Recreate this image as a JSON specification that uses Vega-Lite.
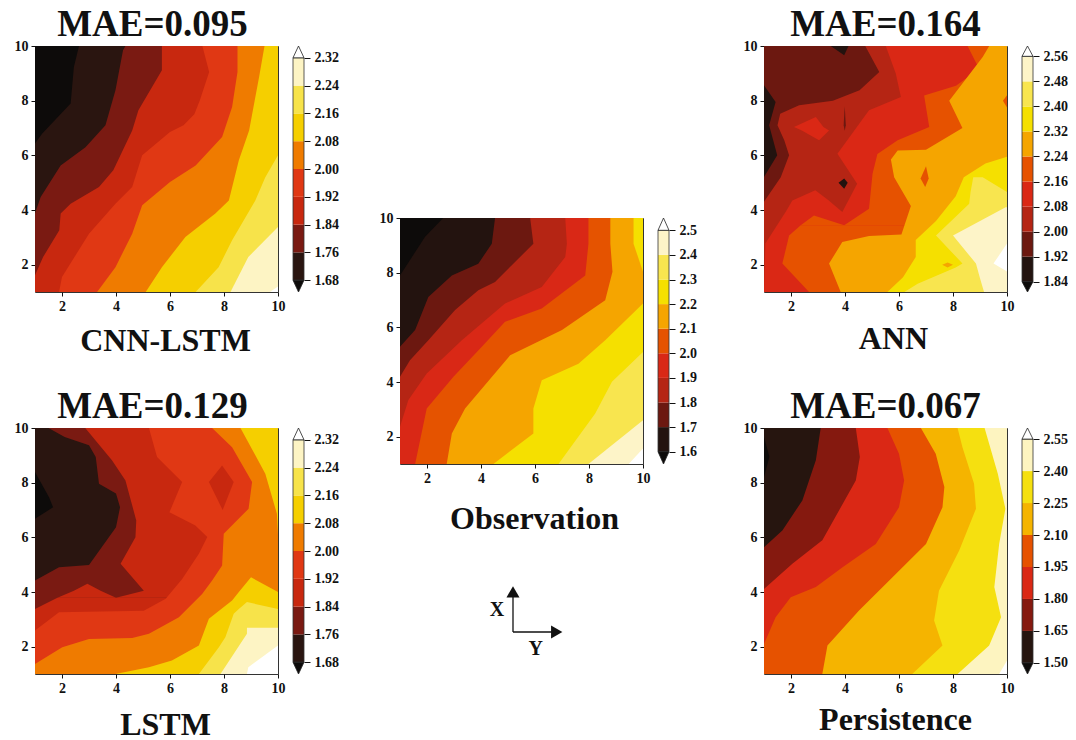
{"$schema":"https://vega.github.io/schema/vega-lite/v6.json","background":"white","padding":{"left":13,"top":5,"right":0,"bottom":0},
"config":{"view":{"stroke":"#333","strokeWidth":1},"font":"Liberation Serif","axis":{"grid":false,"domain":false,"tickColor":"#111","tickSize":4,"tickWidth":1,"labelFont":"Liberation Serif","labelFontWeight":"bold","labelFontSize":14,"labelColor":"#111","labelPadding":3,"labelFlush":false,"labelOverlap":false,"titleFont":"Liberation Serif","titleFontWeight":"bold","titleFontSize":32,"titleColor":"#111","titleBaseline":"alphabetic","titleAlign":"center","titleAnchor":"start"},"title":{"font":"Liberation Serif","fontWeight":"bold","fontSize":37,"color":"#111"}},
"resolve":{"scale":{"color":"independent"}},
"datasets":{
"cnn":[{"b":"below","s":"a","y":1,"x":1,"x2":10},{"b":"below","s":"a","y":10,"x":1,"x2":10},
{"b":"1.68","s":"l1","y":1,"x":1,"x2":10},{"b":"1.68","s":"l1","y":6.43,"x":1,"x2":10},{"b":"1.68","s":"l1","y":6.8,"x":1.27,"x2":10},{"b":"1.68","s":"l1","y":7.9,"x":2.32,"x2":10},{"b":"1.68","s":"l1","y":9.23,"x":2.44,"x2":10},{"b":"1.68","s":"l1","y":10,"x":2.63,"x2":10},
{"b":"1.76","s":"l2","y":1,"x":1,"x2":10},{"b":"1.76","s":"l2","y":3.87,"x":1,"x2":10},{"b":"1.76","s":"l2","y":4.48,"x":1.21,"x2":10},{"b":"1.76","s":"l2","y":5.63,"x":1.95,"x2":10},{"b":"1.76","s":"l2","y":6.3,"x":2.87,"x2":10},{"b":"1.76","s":"l2","y":7.1,"x":3.61,"x2":10},{"b":"1.76","s":"l2","y":8.38,"x":3.98,"x2":10},{"b":"1.76","s":"l2","y":9.84,"x":4.26,"x2":10},{"b":"1.76","s":"l2","y":10,"x":4.35,"x2":10},
{"b":"1.84","s":"l3","y":1,"x":1,"x2":10},{"b":"1.84","s":"l3","y":1.61,"x":1,"x2":10},{"b":"1.84","s":"l3","y":2.28,"x":1.3,"x2":10},{"b":"1.84","s":"l3","y":3.26,"x":1.9,"x2":10},{"b":"1.84","s":"l3","y":3.87,"x":1.95,"x2":10},{"b":"1.84","s":"l3","y":4.23,"x":2.32,"x2":10},{"b":"1.84","s":"l3","y":4.84,"x":3.37,"x2":10},{"b":"1.84","s":"l3","y":5.45,"x":3.9,"x2":10},{"b":"1.84","s":"l3","y":6.91,"x":4.6,"x2":10},{"b":"1.84","s":"l3","y":7.65,"x":4.83,"x2":10},{"b":"1.84","s":"l3","y":9.11,"x":5.7,"x2":10},{"b":"1.84","s":"l3","y":10,"x":5.7,"x2":10},
{"b":"1.92","s":"l4","y":1,"x":1.89,"x2":10},{"b":"1.92","s":"l4","y":1.55,"x":2,"x2":10},{"b":"1.92","s":"l4","y":3.13,"x":3,"x2":10},{"b":"1.92","s":"l4","y":4.23,"x":3.98,"x2":10},{"b":"1.92","s":"l4","y":4.84,"x":4.6,"x2":10},{"b":"1.92","s":"l4","y":6,"x":4.97,"x2":10},{"b":"1.92","s":"l4","y":6.85,"x":6,"x2":10},{"b":"1.92","s":"l4","y":7.1,"x":6.5,"x2":10},{"b":"1.92","s":"l4","y":7.5,"x":6.9,"x2":10},{"b":"1.92","s":"l4","y":8,"x":7.1,"x2":10},{"b":"1.92","s":"l4","y":9.05,"x":7.45,"x2":10},{"b":"1.92","s":"l4","y":10,"x":7.2,"x2":10},
{"b":"2.00","s":"l5","y":1,"x":3.3,"x2":10},{"b":"2.00","s":"l5","y":1.91,"x":3.98,"x2":10},{"b":"2.00","s":"l5","y":3.13,"x":4.6,"x2":10},{"b":"2.00","s":"l5","y":4.17,"x":4.97,"x2":10},{"b":"2.00","s":"l5","y":5.02,"x":6,"x2":10},{"b":"2.00","s":"l5","y":5.63,"x":6.95,"x2":10},{"b":"2.00","s":"l5","y":6.67,"x":7.93,"x2":10},{"b":"2.00","s":"l5","y":7.77,"x":8.3,"x2":10},{"b":"2.00","s":"l5","y":9.05,"x":8.5,"x2":10},{"b":"2.00","s":"l5","y":10,"x":8.5,"x2":10},
{"b":"2.08","s":"l6","y":1,"x":5.1,"x2":10},{"b":"2.08","s":"l6","y":1.91,"x":5.7,"x2":10},{"b":"2.08","s":"l6","y":3.01,"x":6.57,"x2":10},{"b":"2.08","s":"l6","y":3.87,"x":7.68,"x2":10},{"b":"2.08","s":"l6","y":4.35,"x":8.18,"x2":10},{"b":"2.08","s":"l6","y":5.82,"x":8.55,"x2":10},{"b":"2.08","s":"l6","y":6.91,"x":8.93,"x2":10},{"b":"2.08","s":"l6","y":8.87,"x":9.3,"x2":10},{"b":"2.08","s":"l6","y":10,"x":9.5,"x2":10},
{"b":"2.16","s":"l7","y":1,"x":6.95,"x2":10},{"b":"2.16","s":"l7","y":1.91,"x":7.8,"x2":10},{"b":"2.16","s":"l7","y":2.89,"x":8.3,"x2":10},{"b":"2.16","s":"l7","y":4.35,"x":9.16,"x2":10},{"b":"2.16","s":"l7","y":5.2,"x":9.53,"x2":10},{"b":"2.16","s":"l7","y":6,"x":10,"x2":10},
{"b":"2.24","s":"l8","y":1,"x":8.24,"x2":10},{"b":"2.24","s":"l8","y":2.28,"x":8.9,"x2":10},{"b":"2.24","s":"l8","y":3.38,"x":10,"x2":10},
{"b":"above","s":"l9","y":1,"x":9.7,"x2":10},{"b":"above","s":"l9","y":1.2,"x":10,"x2":10}],
"lstm":[{"b":"1.68","s":"a","y":1,"x":1,"x2":10},{"b":"1.68","s":"a","y":10,"x":1,"x2":10},
{"b":"below","s":"blob","y":6.68,"x":1,"x2":1},{"b":"below","s":"blob","y":7.1,"x":1,"x2":1.67},{"b":"below","s":"blob","y":7.47,"x":1,"x2":1.52},{"b":"below","s":"blob","y":8.39,"x":1,"x2":1},
{"b":"1.76","s":"m","y":1,"x":1,"x2":10},{"b":"1.76","s":"m","y":4.42,"x":1,"x2":10},{"b":"1.76","s":"m","y":4.91,"x":1.89,"x2":10},{"b":"1.76","s":"m","y":4.99,"x":3,"x2":10},{"b":"1.76","s":"m","y":6.37,"x":4,"x2":10},{"b":"1.76","s":"m","y":7.1,"x":4.15,"x2":10},{"b":"1.76","s":"m","y":7.6,"x":4,"x2":10},{"b":"1.76","s":"m","y":7.96,"x":3.37,"x2":10},{"b":"1.76","s":"m","y":8.94,"x":3.25,"x2":10},{"b":"1.76","s":"m","y":9.37,"x":3,"x2":10},{"b":"1.76","s":"m","y":9.67,"x":2.1,"x2":10},{"b":"1.76","s":"m","y":10,"x":1.5,"x2":10},
{"b":"1.84","s":"ra","y":1,"x":1,"x2":10},{"b":"1.84","s":"ra","y":3.38,"x":1,"x2":10},{"b":"1.84","s":"ra","y":3.79,"x":1.83,"x2":10},
{"b":"1.84","s":"rb","y":3.79,"x":4,"x2":10},{"b":"1.84","s":"rb","y":4.05,"x":5.03,"x2":10},{"b":"1.84","s":"rb","y":5.03,"x":4.17,"x2":10},{"b":"1.84","s":"rb","y":6,"x":4.72,"x2":10},{"b":"1.84","s":"rb","y":6.62,"x":4.75,"x2":10},{"b":"1.84","s":"rb","y":8.08,"x":4.35,"x2":10},{"b":"1.84","s":"rb","y":8.82,"x":3.85,"x2":10},{"b":"1.84","s":"rb","y":10,"x":2.86,"x2":10},
{"b":"1.84","s":"rc","y":3.79,"x":1.83,"x2":4},{"b":"1.84","s":"rc","y":4.05,"x":2.44,"x2":3.43},{"b":"1.84","s":"rc","y":4.3,"x":2.94,"x2":2.94},
{"b":"1.92","s":"o","y":1,"x":1,"x2":10},{"b":"1.92","s":"o","y":2.59,"x":1,"x2":10},{"b":"1.92","s":"o","y":3.26,"x":1.89,"x2":10},{"b":"1.92","s":"o","y":3.31,"x":5.03,"x2":10},{"b":"1.92","s":"o","y":3.75,"x":5.84,"x2":10},{"b":"1.92","s":"o","y":4.48,"x":6.45,"x2":10},{"b":"1.92","s":"o","y":5.4,"x":7.07,"x2":10},{"b":"1.92","s":"o","y":6.01,"x":7.38,"x2":10},{"b":"1.92","s":"o","y":6.43,"x":6.94,"x2":10},{"b":"1.92","s":"o","y":6.92,"x":5.98,"x2":10},{"b":"1.92","s":"o","y":8.02,"x":6.45,"x2":10},{"b":"1.92","s":"o","y":8.94,"x":5.52,"x2":10},{"b":"1.92","s":"o","y":10,"x":5.22,"x2":10},
{"b":"1.84","s":"isl","y":7,"x":7.95,"x2":7.95},{"b":"1.84","s":"isl","y":8.02,"x":7.44,"x2":8.36},{"b":"1.84","s":"isl","y":8.63,"x":7.93,"x2":7.93},
{"b":"2.00","s":"p","y":1,"x":1,"x2":10},{"b":"2.00","s":"p","y":1.37,"x":1,"x2":10},{"b":"2.00","s":"p","y":1.98,"x":2.01,"x2":10},{"b":"2.00","s":"p","y":2.28,"x":3,"x2":10},{"b":"2.00","s":"p","y":2.32,"x":4.6,"x2":10},{"b":"2.00","s":"p","y":2.47,"x":5.22,"x2":10},{"b":"2.00","s":"p","y":3.08,"x":6.33,"x2":10},{"b":"2.00","s":"p","y":3.93,"x":7.19,"x2":10},{"b":"2.00","s":"p","y":4.42,"x":7.56,"x2":10},{"b":"2.00","s":"p","y":4.97,"x":7.93,"x2":10},{"b":"2.00","s":"p","y":6.13,"x":7.99,"x2":10},{"b":"2.00","s":"p","y":7.05,"x":8.91,"x2":10},{"b":"2.00","s":"p","y":8.02,"x":9.04,"x2":10},{"b":"2.00","s":"p","y":9.3,"x":8.3,"x2":10},{"b":"2.00","s":"p","y":10,"x":7.56,"x2":10},
{"b":"2.08","s":"g1","y":1,"x":3.98,"x2":10},{"b":"2.08","s":"g1","y":1.25,"x":5.22,"x2":10},{"b":"2.08","s":"g1","y":1.49,"x":6.07,"x2":10},{"b":"2.08","s":"g1","y":2.04,"x":7.07,"x2":10},{"b":"2.08","s":"g1","y":3.02,"x":7.44,"x2":10},{"b":"2.08","s":"g1","y":3.69,"x":8.3,"x2":10},{"b":"2.08","s":"g1","y":4,"x":8.55,"x2":10},{"b":"2.08","s":"g1","y":4.54,"x":9,"x2":9},
{"b":"2.08","s":"g2","y":6.1,"x":10,"x2":10},{"b":"2.08","s":"g2","y":6.86,"x":9.96,"x2":10},{"b":"2.08","s":"g2","y":8.33,"x":9.53,"x2":10},{"b":"2.08","s":"g2","y":10,"x":8.61,"x2":10},
{"b":"2.16","s":"h","y":1,"x":7.07,"x2":10},{"b":"2.16","s":"h","y":1.98,"x":7.81,"x2":10},{"b":"2.16","s":"h","y":2.34,"x":8.05,"x2":10},{"b":"2.16","s":"h","y":3.2,"x":8.36,"x2":10},{"b":"2.16","s":"h","y":3.38,"x":8.55,"x2":10},{"b":"2.16","s":"h","y":3.63,"x":8.85,"x2":8.85},
{"b":"2.24","s":"i","y":1,"x":7.87,"x2":10},{"b":"2.24","s":"i","y":2.47,"x":8.85,"x2":10},{"b":"2.24","s":"i","y":2.69,"x":8.85,"x2":10},
{"b":"above","s":"j","y":1,"x":8.85,"x2":10},{"b":"above","s":"j","y":1.25,"x":8.9,"x2":10},{"b":"above","s":"j","y":2.04,"x":10,"x2":10}],
"obs":[{"b":"below","s":"a","y":1,"x":1,"x2":10},{"b":"below","s":"a","y":10,"x":1,"x2":10},
{"b":"1.6","s":"l1","y":1,"x":1,"x2":10},{"b":"1.6","s":"l1","y":7.9,"x":1,"x2":10},{"b":"1.6","s":"l1","y":9.31,"x":1.93,"x2":10},{"b":"1.6","s":"l1","y":10,"x":2.6,"x2":10},
{"b":"1.7","s":"l2","y":1,"x":1,"x2":10},{"b":"1.7","s":"l2","y":5.29,"x":1,"x2":10},{"b":"1.7","s":"l2","y":5.9,"x":1.56,"x2":10},{"b":"1.7","s":"l2","y":7.11,"x":2.05,"x2":10},{"b":"1.7","s":"l2","y":7.9,"x":2.92,"x2":10},{"b":"1.7","s":"l2","y":8.33,"x":3.9,"x2":10},{"b":"1.7","s":"l2","y":9.06,"x":4.4,"x2":10},{"b":"1.7","s":"l2","y":10,"x":4.52,"x2":10},
{"b":"1.8","s":"l3","y":1,"x":1,"x2":10},{"b":"1.8","s":"l3","y":4.19,"x":1,"x2":10},{"b":"1.8","s":"l3","y":4.8,"x":1.37,"x2":10},{"b":"1.8","s":"l3","y":5.53,"x":2.05,"x2":10},{"b":"1.8","s":"l3","y":6.63,"x":3.04,"x2":10},{"b":"1.8","s":"l3","y":7.36,"x":3.9,"x2":10},{"b":"1.8","s":"l3","y":7.66,"x":4.52,"x2":10},{"b":"1.8","s":"l3","y":9.06,"x":5.94,"x2":10},{"b":"1.8","s":"l3","y":10,"x":5.82,"x2":10},
{"b":"1.9","s":"l4","y":1,"x":1,"x2":10},{"b":"1.9","s":"l4","y":2.36,"x":1,"x2":10},{"b":"1.9","s":"l4","y":3.34,"x":1.31,"x2":10},{"b":"1.9","s":"l4","y":4.31,"x":1.99,"x2":10},{"b":"1.9","s":"l4","y":5.53,"x":3.29,"x2":10},{"b":"1.9","s":"l4","y":6.87,"x":4.89,"x2":10},{"b":"1.9","s":"l4","y":7.48,"x":6.25,"x2":10},{"b":"1.9","s":"l4","y":8.57,"x":7.12,"x2":10},{"b":"1.9","s":"l4","y":9.06,"x":7.18,"x2":10},{"b":"1.9","s":"l4","y":10,"x":7.12,"x2":10},
{"b":"2.0","s":"l5","y":1,"x":1.56,"x2":10},{"b":"2.0","s":"l5","y":3.03,"x":1.99,"x2":10},{"b":"2.0","s":"l5","y":4.19,"x":2.98,"x2":10},{"b":"2.0","s":"l5","y":5.29,"x":4.03,"x2":10},{"b":"2.0","s":"l5","y":6.2,"x":4.89,"x2":10},{"b":"2.0","s":"l5","y":6.69,"x":6.25,"x2":10},{"b":"2.0","s":"l5","y":7.9,"x":7.86,"x2":10},{"b":"2.0","s":"l5","y":9.06,"x":7.98,"x2":10},{"b":"2.0","s":"l5","y":10,"x":7.98,"x2":10},
{"b":"2.1","s":"l6","y":1,"x":2.73,"x2":10},{"b":"2.1","s":"l6","y":2.12,"x":2.92,"x2":10},{"b":"2.1","s":"l6","y":3.03,"x":3.41,"x2":10},{"b":"2.1","s":"l6","y":4.98,"x":5.08,"x2":10},{"b":"2.1","s":"l6","y":5.9,"x":7,"x2":10},{"b":"2.1","s":"l6","y":6.99,"x":8.6,"x2":10},{"b":"2.1","s":"l6","y":8.03,"x":8.87,"x2":10},{"b":"2.1","s":"l6","y":9.06,"x":8.79,"x2":10},{"b":"2.1","s":"l6","y":10,"x":8.79,"x2":10},
{"b":"2.2","s":"g1","y":1,"x":4.46,"x2":10},{"b":"2.2","s":"g1","y":2.12,"x":5.94,"x2":10},{"b":"2.2","s":"g1","y":3.03,"x":5.94,"x2":10},{"b":"2.2","s":"g1","y":4.06,"x":6.25,"x2":10},{"b":"2.2","s":"g1","y":4.67,"x":7.61,"x2":10},{"b":"2.2","s":"g1","y":5.53,"x":8.6,"x2":10},{"b":"2.2","s":"g1","y":6.87,"x":10,"x2":10},
{"b":"2.2","s":"g2","y":8.03,"x":10,"x2":10},{"b":"2.2","s":"g2","y":9.06,"x":9.65,"x2":10},{"b":"2.2","s":"g2","y":10,"x":9.65,"x2":10},
{"b":"2.3","s":"l8","y":1,"x":6.87,"x2":10},{"b":"2.3","s":"l8","y":2.85,"x":8.23,"x2":10},{"b":"2.3","s":"l8","y":4.01,"x":8.85,"x2":10},{"b":"2.3","s":"l8","y":5.1,"x":10,"x2":10},
{"b":"2.4","s":"l9","y":1,"x":7.98,"x2":10},{"b":"2.4","s":"l9","y":2.6,"x":10,"x2":10},
{"b":"above","s":"l10","y":1,"x":9.47,"x2":10},{"b":"above","s":"l10","y":1.57,"x":10,"x2":10}],
"ann":[{"b":"1.92","s":"a","y":1,"x":1,"x2":10},{"b":"1.92","s":"a","y":10,"x":1,"x2":10},
{"b":"1.84","s":"d1","y":5.21,"x":1,"x2":1},{"b":"1.84","s":"d1","y":6,"x":1,"x2":1.49},{"b":"1.84","s":"d1","y":7.1,"x":1,"x2":1.19},{"b":"1.84","s":"d1","y":7.95,"x":1,"x2":1.43},{"b":"1.84","s":"d1","y":8.56,"x":1,"x2":1},
{"b":"1.84","s":"d2","y":9.66,"x":3.97,"x2":3.97},{"b":"1.84","s":"d2","y":10,"x":3.47,"x2":4.13},
{"b":"2.00","s":"br","y":1,"x":1,"x2":10},{"b":"2.00","s":"br","y":4.3,"x":1,"x2":10},{"b":"2.00","s":"br","y":5.2,"x":1.62,"x2":10},{"b":"2.00","s":"br","y":6,"x":1.93,"x2":10},{"b":"2.00","s":"br","y":6.55,"x":1.75,"x2":10},{"b":"2.00","s":"br","y":7.1,"x":1.5,"x2":10},{"b":"2.00","s":"br","y":7.52,"x":1.6,"x2":10},{"b":"2.00","s":"br","y":7.83,"x":2.3,"x2":10},{"b":"2.00","s":"br","y":8,"x":3.55,"x2":10},{"b":"2.00","s":"br","y":8.38,"x":4.54,"x2":10},{"b":"2.00","s":"br","y":9.05,"x":5.27,"x2":10},{"b":"2.00","s":"br","y":10,"x":4.75,"x2":10},
{"b":"1.84","s":"d3","y":4.78,"x":3.97,"x2":3.97},{"b":"1.84","s":"d3","y":5,"x":3.76,"x2":4.1},{"b":"1.84","s":"d3","y":5.15,"x":3.97,"x2":3.97},
{"b":"1.92","s":"d4","y":6.9,"x":3.99,"x2":3.99},{"b":"1.92","s":"d4","y":7.1,"x":3.95,"x2":4.03},{"b":"1.92","s":"d4","y":7.8,"x":3.99,"x2":3.99},
{"b":"2.08","s":"ra","y":1,"x":1,"x2":10},{"b":"2.08","s":"ra","y":2.77,"x":1.05,"x2":10},{"b":"2.08","s":"ra","y":3.74,"x":1.68,"x2":10},{"b":"2.08","s":"ra","y":3.93,"x":1.8,"x2":10},
{"b":"2.08","s":"rl","y":3.93,"x":1.8,"x2":3.9},{"b":"2.08","s":"rl","y":4.35,"x":2.05,"x2":3.4},{"b":"2.08","s":"rl","y":4.72,"x":2.9,"x2":2.9},
{"b":"2.08","s":"rr","y":3.93,"x":3.9,"x2":10},{"b":"2.08","s":"rr","y":4.96,"x":4.45,"x2":10},{"b":"2.08","s":"rr","y":6.06,"x":3.72,"x2":10},{"b":"2.08","s":"rr","y":7.65,"x":4.89,"x2":10},{"b":"2.08","s":"rr","y":8.13,"x":6.07,"x2":10},{"b":"2.08","s":"rr","y":8.99,"x":5.88,"x2":10},{"b":"2.08","s":"rr","y":10,"x":5.51,"x2":10},
{"b":"2.08","s":"ri","y":6.55,"x":3.04,"x2":3.04},{"b":"2.08","s":"ri","y":6.91,"x":2.4,"x2":3.41},{"b":"2.08","s":"ri","y":7.04,"x":2.11,"x2":3.2},{"b":"2.08","s":"ri","y":7.4,"x":2.92,"x2":2.92},
{"b":"2.16","s":"oa","y":1,"x":2.67,"x2":10},{"b":"2.16","s":"oa","y":2.04,"x":1.68,"x2":10},{"b":"2.16","s":"oa","y":3.07,"x":1.93,"x2":10},{"b":"2.16","s":"oa","y":3.44,"x":2.36,"x2":10},
{"b":"2.16","s":"ol","y":3.44,"x":2.36,"x2":3.97},{"b":"2.16","s":"ol","y":3.8,"x":2.85,"x2":2.85},
{"b":"2.16","s":"or","y":3.44,"x":3.97,"x2":10},{"b":"2.16","s":"or","y":4.05,"x":4.89,"x2":10},{"b":"2.16","s":"or","y":5.33,"x":5.02,"x2":10},{"b":"2.16","s":"or","y":6.05,"x":5.2,"x2":10},{"b":"2.16","s":"or","y":6.55,"x":5.95,"x2":10},{"b":"2.16","s":"or","y":7.04,"x":7.12,"x2":10},{"b":"2.16","s":"or","y":8.19,"x":6.93,"x2":10},{"b":"2.16","s":"or","y":8.55,"x":8.11,"x2":10},{"b":"2.16","s":"or","y":9.16,"x":8.97,"x2":10},{"b":"2.16","s":"or","y":10,"x":8.54,"x2":10},
{"b":"2.24","s":"p","y":1,"x":3.84,"x2":10},{"b":"2.24","s":"p","y":2.04,"x":3.41,"x2":10},{"b":"2.24","s":"p","y":2.83,"x":3.9,"x2":10},{"b":"2.24","s":"p","y":3.05,"x":4.89,"x2":10},{"b":"2.24","s":"p","y":3.1,"x":6.09,"x2":10},{"b":"2.24","s":"p","y":4.15,"x":6.44,"x2":10},{"b":"2.24","s":"p","y":5.2,"x":5.82,"x2":10},{"b":"2.24","s":"p","y":5.85,"x":5.7,"x2":10},{"b":"2.24","s":"p","y":6.18,"x":5.95,"x2":10},{"b":"2.24","s":"p","y":6.2,"x":7,"x2":10},{"b":"2.24","s":"p","y":7,"x":8.35,"x2":10},{"b":"2.24","s":"p","y":8,"x":7.86,"x2":10},{"b":"2.24","s":"p","y":9.6,"x":9.1,"x2":10},{"b":"2.24","s":"p","y":10,"x":9.34,"x2":10},
{"b":"2.16","s":"s1","y":4.84,"x":6.97,"x2":6.97},{"b":"2.16","s":"s1","y":5.15,"x":6.8,"x2":7.1},{"b":"2.16","s":"s1","y":5.6,"x":7,"x2":7},
{"b":"2.16","s":"s2","y":7.75,"x":10,"x2":10},{"b":"2.16","s":"s2","y":8,"x":9.85,"x2":10},{"b":"2.16","s":"s2","y":8.2,"x":10,"x2":10},
{"b":"2.32","s":"g","y":1,"x":5.57,"x2":10},{"b":"2.32","s":"g","y":1.54,"x":6.15,"x2":10},{"b":"2.32","s":"g","y":2.28,"x":6.62,"x2":10},{"b":"2.32","s":"g","y":2.9,"x":6.62,"x2":10},{"b":"2.32","s":"g","y":3.6,"x":7.37,"x2":10},{"b":"2.32","s":"g","y":4.5,"x":8.1,"x2":10},{"b":"2.32","s":"g","y":5.2,"x":8.4,"x2":10},{"b":"2.32","s":"g","y":5.7,"x":9.2,"x2":10},{"b":"2.32","s":"g","y":5.95,"x":10,"x2":10},
{"b":"2.24","s":"s3","y":1.9,"x":7.8,"x2":7.8},{"b":"2.24","s":"s3","y":2,"x":7.6,"x2":8},{"b":"2.24","s":"s3","y":2.08,"x":7.8,"x2":7.8},
{"b":"2.40","s":"h1","y":1,"x":6.2,"x2":10},{"b":"2.40","s":"h1","y":1.3,"x":6.69,"x2":10},{"b":"2.40","s":"h1","y":1.9,"x":8.1,"x2":10},{"b":"2.40","s":"h1","y":2.04,"x":8.35,"x2":10},{"b":"2.40","s":"h1","y":3.07,"x":7.37,"x2":10},{"b":"2.40","s":"h1","y":4.23,"x":8.6,"x2":10},{"b":"2.40","s":"h1","y":4.66,"x":8.65,"x2":10},{"b":"2.40","s":"h1","y":5.2,"x":8.75,"x2":9.1},
{"b":"2.48","s":"i","y":1,"x":9.15,"x2":10},{"b":"2.48","s":"i","y":1.5,"x":9,"x2":10},{"b":"2.48","s":"i","y":2.04,"x":8.85,"x2":10},{"b":"2.48","s":"i","y":3.07,"x":8,"x2":10},{"b":"2.48","s":"i","y":4.1,"x":9.95,"x2":10},
{"b":"above","s":"j","y":1.75,"x":10,"x2":10},{"b":"above","s":"j","y":2.04,"x":9.5,"x2":10},{"b":"above","s":"j","y":2.77,"x":10,"x2":10}],
"per":[{"b":"1.50","s":"a","y":1,"x":1,"x2":10},{"b":"1.50","s":"a","y":10,"x":1,"x2":10},
{"b":"below","s":"k","y":8.2,"x":1,"x2":1},{"b":"below","s":"k","y":8.95,"x":1,"x2":1.2},{"b":"below","s":"k","y":9.67,"x":1,"x2":1},
{"b":"1.65","s":"l1","y":1,"x":1,"x2":10},{"b":"1.65","s":"l1","y":5.64,"x":1,"x2":10},{"b":"1.65","s":"l1","y":6.25,"x":1.68,"x2":10},{"b":"1.65","s":"l1","y":7.35,"x":2.42,"x2":10},{"b":"1.65","s":"l1","y":8.82,"x":2.92,"x2":10},{"b":"1.65","s":"l1","y":10,"x":3.1,"x2":10},
{"b":"1.80","s":"l2","y":1,"x":1,"x2":10},{"b":"1.80","s":"l2","y":4.11,"x":1,"x2":10},{"b":"1.80","s":"l2","y":5.03,"x":2.05,"x2":10},{"b":"1.80","s":"l2","y":5.89,"x":3.16,"x2":10},{"b":"1.80","s":"l2","y":8.08,"x":4.4,"x2":10},{"b":"1.80","s":"l2","y":8.94,"x":4.55,"x2":10},{"b":"1.80","s":"l2","y":10,"x":4.4,"x2":10},
{"b":"1.95","s":"l3","y":1,"x":1,"x2":10},{"b":"1.95","s":"l3","y":2.1,"x":1,"x2":10},{"b":"1.95","s":"l3","y":3.08,"x":1.43,"x2":10},{"b":"1.95","s":"l3","y":3.81,"x":1.99,"x2":10},{"b":"1.95","s":"l3","y":4.18,"x":2.92,"x2":10},{"b":"1.95","s":"l3","y":4.91,"x":3.91,"x2":10},{"b":"1.95","s":"l3","y":5.76,"x":5.14,"x2":10},{"b":"1.95","s":"l3","y":7.1,"x":6,"x2":10},{"b":"1.95","s":"l3","y":8.08,"x":6.19,"x2":10},{"b":"1.95","s":"l3","y":9.06,"x":6,"x2":10},{"b":"1.95","s":"l3","y":10,"x":5.57,"x2":10},
{"b":"2.10","s":"l4","y":1,"x":3.16,"x2":10},{"b":"2.10","s":"l4","y":2.04,"x":3.35,"x2":10},{"b":"2.10","s":"l4","y":3.32,"x":4.52,"x2":10},{"b":"2.10","s":"l4","y":4.54,"x":5.76,"x2":10},{"b":"2.10","s":"l4","y":5.76,"x":7,"x2":10},{"b":"2.10","s":"l4","y":7.1,"x":7.61,"x2":10},{"b":"2.10","s":"l4","y":7.84,"x":7.68,"x2":10},{"b":"2.10","s":"l4","y":9.06,"x":7.36,"x2":10},{"b":"2.10","s":"l4","y":10,"x":6.81,"x2":10},
{"b":"2.25","s":"l5","y":1,"x":6.49,"x2":10},{"b":"2.25","s":"l5","y":2.04,"x":7.61,"x2":10},{"b":"2.25","s":"l5","y":2.96,"x":7.3,"x2":10},{"b":"2.25","s":"l5","y":4.05,"x":7.48,"x2":10},{"b":"2.25","s":"l5","y":5.52,"x":8.23,"x2":10},{"b":"2.25","s":"l5","y":7.05,"x":8.85,"x2":10},{"b":"2.25","s":"l5","y":7.96,"x":8.78,"x2":10},{"b":"2.25","s":"l5","y":9.3,"x":8.35,"x2":10},{"b":"2.25","s":"l5","y":10,"x":8.17,"x2":10},
{"b":"2.40","s":"l6","y":1,"x":8.17,"x2":10},{"b":"2.40","s":"l6","y":2.04,"x":9.34,"x2":10},{"b":"2.40","s":"l6","y":3.08,"x":9.78,"x2":10},{"b":"2.40","s":"l6","y":4.18,"x":9.53,"x2":10},{"b":"2.40","s":"l6","y":5.76,"x":9.71,"x2":10},{"b":"2.40","s":"l6","y":7.05,"x":9.94,"x2":10},{"b":"2.40","s":"l6","y":8.33,"x":9.66,"x2":10},{"b":"2.40","s":"l6","y":10,"x":9.17,"x2":10},
{"b":"above","s":"w","y":1,"x":9.71,"x2":10},{"b":"above","s":"w","y":1.49,"x":10,"x2":10}]
},
"hconcat":[
{"resolve":{"scale":{"color":"independent"}},"vconcat":[
{"resolve":{"scale":{"color":"independent"}},"hconcat":[
{"width":243,"height":246,"title":{"text":"MAE=0.095","offset":-5,"dx":-4},"data":{"name":"cnn"},"mark":{"type":"area","orient":"horizontal"},"encoding":{"y":{"field":"y","type":"quantitative","scale":{"domain":[1,10],"nice":false},"axis":{"values":[2,4,6,8,10],"title":null}},"x":{"field":"x","type":"quantitative","scale":{"domain":[1,10],"nice":false},"axis":{"values":[2,4,6,8,10],"title":"CNN-LSTM","titleX":130,"titleY":58}},"x2":{"field":"x2"},"detail":{"field":"s"},"color":{"field":"b","type":"ordinal","legend":null,"scale":{"domain":["below","1.68","1.76","1.84","1.92","2.00","2.08","2.16","2.24","above"],"range":["#0d0b0a","#2a1510","#7a1a12","#c8280f","#e03814","#ef7b00","#f5cf00","#f7e34a","#fdf4c4","#ffffff"]}}}},
{"width":11,"height":246,"view":{"stroke":null},"resolve":{"scale":{"color":"shared"}},"layer":[
{"data":{"values":[{"b":"1.68","lo":1.68,"hi":1.76},{"b":"1.76","lo":1.76,"hi":1.84},{"b":"1.84","lo":1.84,"hi":1.92},{"b":"1.92","lo":1.92,"hi":2.0},{"b":"2.00","lo":2.0,"hi":2.08},{"b":"2.08","lo":2.08,"hi":2.16},{"b":"2.16","lo":2.16,"hi":2.24},{"b":"2.24","lo":2.24,"hi":2.32}]},"mark":"rect","encoding":{"y":{"field":"lo","type":"quantitative","scale":{"domain":[1.646,2.354],"nice":false},"axis":{"values":[1.68,1.76,1.84,1.92,2.0,2.08,2.16,2.24,2.32],"tickCount":20,"format":".2f","orient":"right","title":null,"tickSize":6,"labelFontSize":14,"labelPadding":4,"labelOverlap":false}},"y2":{"field":"hi"},"color":{"field":"b","type":"ordinal","legend":null,"scale":{"domain":["below","1.68","1.76","1.84","1.92","2.00","2.08","2.16","2.24","above"],"range":["#0d0b0a","#2a1510","#7a1a12","#c8280f","#e03814","#ef7b00","#f5cf00","#f7e34a","#fdf4c4","#ffffff"]}}}},
{"data":{"values":[{"lo":1.68,"hi":2.32}]},"mark":{"type":"rect","fill":null,"stroke":"#333","strokeWidth":0.8},"encoding":{"y":{"field":"lo","type":"quantitative"},"y2":{"field":"hi"}}},
{"data":{"values":[{"b":"above","y":2.32,"x":0,"x2":1},{"b":"above","y":2.354,"x":0.5,"x2":0.5},{"b":"below","y":1.68,"x":0,"x2":1},{"b":"below","y":1.646,"x":0.5,"x2":0.5}]},"mark":{"type":"area","orient":"horizontal","stroke":"#222","strokeWidth":0.8},"encoding":{"y":{"field":"y","type":"quantitative"},"x":{"field":"x","type":"quantitative","scale":{"domain":[0,1],"nice":false},"axis":null},"x2":{"field":"x2"},"color":{"field":"b","type":"ordinal","legend":null}}}
]}],"spacing":15,"bounds":"flush"},
{"resolve":{"scale":{"color":"independent"}},"hconcat":[
{"width":243,"height":246,"title":{"text":"MAE=0.129","offset":-5,"dx":-4},"data":{"name":"lstm"},"mark":{"type":"area","orient":"horizontal"},"encoding":{"y":{"field":"y","type":"quantitative","scale":{"domain":[1,10],"nice":false},"axis":{"values":[2,4,6,8,10],"title":null}},"x":{"field":"x","type":"quantitative","scale":{"domain":[1,10],"nice":false},"axis":{"values":[2,4,6,8,10],"title":"LSTM","titleX":130,"titleY":60}},"x2":{"field":"x2"},"detail":{"field":"s"},"color":{"field":"b","type":"ordinal","legend":null,"scale":{"domain":["below","1.68","1.76","1.84","1.92","2.00","2.08","2.16","2.24","above"],"range":["#0d0b0a","#2a1510","#7a1a12","#c8280f","#e03814","#ef7b00","#f5cf00","#f7e34a","#fdf4c4","#ffffff"]}}}},
{"width":11,"height":246,"view":{"stroke":null},"resolve":{"scale":{"color":"shared"}},"layer":[
{"data":{"values":[{"b":"1.68","lo":1.68,"hi":1.76},{"b":"1.76","lo":1.76,"hi":1.84},{"b":"1.84","lo":1.84,"hi":1.92},{"b":"1.92","lo":1.92,"hi":2.0},{"b":"2.00","lo":2.0,"hi":2.08},{"b":"2.08","lo":2.08,"hi":2.16},{"b":"2.16","lo":2.16,"hi":2.24},{"b":"2.24","lo":2.24,"hi":2.32}]},"mark":"rect","encoding":{"y":{"field":"lo","type":"quantitative","scale":{"domain":[1.646,2.354],"nice":false},"axis":{"values":[1.68,1.76,1.84,1.92,2.0,2.08,2.16,2.24,2.32],"tickCount":20,"format":".2f","orient":"right","title":null,"tickSize":6,"labelFontSize":14,"labelPadding":4,"labelOverlap":false}},"y2":{"field":"hi"},"color":{"field":"b","type":"ordinal","legend":null,"scale":{"domain":["below","1.68","1.76","1.84","1.92","2.00","2.08","2.16","2.24","above"],"range":["#0d0b0a","#2a1510","#7a1a12","#c8280f","#e03814","#ef7b00","#f5cf00","#f7e34a","#fdf4c4","#ffffff"]}}}},
{"data":{"values":[{"lo":1.68,"hi":2.32}]},"mark":{"type":"rect","fill":null,"stroke":"#333","strokeWidth":0.8},"encoding":{"y":{"field":"lo","type":"quantitative"},"y2":{"field":"hi"}}},
{"data":{"values":[{"b":"above","y":2.32,"x":0,"x2":1},{"b":"above","y":2.354,"x":0.5,"x2":0.5},{"b":"below","y":1.68,"x":0,"x2":1},{"b":"below","y":1.646,"x":0.5,"x2":0.5}]},"mark":{"type":"area","orient":"horizontal","stroke":"#222","strokeWidth":0.8},"encoding":{"y":{"field":"y","type":"quantitative"},"x":{"field":"x","type":"quantitative","scale":{"domain":[0,1],"nice":false},"axis":null},"x2":{"field":"x2"},"color":{"field":"b","type":"ordinal","legend":null}}}
]}],"spacing":15,"bounds":"flush"}
],"spacing":30},
{"resolve":{"scale":{"color":"independent"}},"vconcat":[
{"width":303,"height":134,"view":{"stroke":null},"data":{"values":[]},"mark":"point"},
{"resolve":{"scale":{"color":"independent"}},"hconcat":[
{"width":243,"height":246,"data":{"name":"obs"},"mark":{"type":"area","orient":"horizontal"},"encoding":{"y":{"field":"y","type":"quantitative","scale":{"domain":[1,10],"nice":false},"axis":{"values":[2,4,6,8,10],"title":null}},"x":{"field":"x","type":"quantitative","scale":{"domain":[1,10],"nice":false},"axis":{"values":[2,4,6,8,10],"title":"Observation","titleX":134,"titleY":64}},"x2":{"field":"x2"},"detail":{"field":"s"},"color":{"field":"b","type":"ordinal","legend":null,"scale":{"domain":["below","1.6","1.7","1.8","1.9","2.0","2.1","2.2","2.3","2.4","above"],"range":["#0d0b0a","#23130f","#6c1810","#b52514","#d92816","#e55300","#f5a500","#f5e000","#f8e54f","#fdf4c8","#ffffff"]}}}},
{"width":11,"height":246,"view":{"stroke":null},"resolve":{"scale":{"color":"shared"}},"layer":[
{"data":{"values":[{"b":"1.6","lo":1.6,"hi":1.7},{"b":"1.7","lo":1.7,"hi":1.8},{"b":"1.8","lo":1.8,"hi":1.9},{"b":"1.9","lo":1.9,"hi":2.0},{"b":"2.0","lo":2.0,"hi":2.1},{"b":"2.1","lo":2.1,"hi":2.2},{"b":"2.2","lo":2.2,"hi":2.3},{"b":"2.3","lo":2.3,"hi":2.4},{"b":"2.4","lo":2.4,"hi":2.5}]},"mark":"rect","encoding":{"y":{"field":"lo","type":"quantitative","scale":{"domain":[1.55,2.55],"nice":false},"axis":{"values":[1.6,1.7,1.8,1.9,2.0,2.1,2.2,2.3,2.4,2.5],"tickCount":20,"format":".1f","orient":"right","title":null,"tickSize":6,"labelFontSize":14,"labelPadding":4,"labelOverlap":false}},"y2":{"field":"hi"},"color":{"field":"b","type":"ordinal","legend":null,"scale":{"domain":["below","1.6","1.7","1.8","1.9","2.0","2.1","2.2","2.3","2.4","above"],"range":["#0d0b0a","#23130f","#6c1810","#b52514","#d92816","#e55300","#f5a500","#f5e000","#f8e54f","#fdf4c8","#ffffff"]}}}},
{"data":{"values":[{"lo":1.6,"hi":2.5}]},"mark":{"type":"rect","fill":null,"stroke":"#333","strokeWidth":0.8},"encoding":{"y":{"field":"lo","type":"quantitative"},"y2":{"field":"hi"}}},
{"data":{"values":[{"b":"above","y":2.5,"x":0,"x2":1},{"b":"above","y":2.55,"x":0.5,"x2":0.5},{"b":"below","y":1.6,"x":0,"x2":1},{"b":"below","y":1.55,"x":0.5,"x2":0.5}]},"mark":{"type":"area","orient":"horizontal","stroke":"#222","strokeWidth":0.8},"encoding":{"y":{"field":"y","type":"quantitative"},"x":{"field":"x","type":"quantitative","scale":{"domain":[0,1],"nice":false},"axis":null},"x2":{"field":"x2"},"color":{"field":"b","type":"ordinal","legend":null}}}
]}],"spacing":15,"bounds":"flush"},
{"width":243,"height":134,"view":{"stroke":null},"layer":[
{"data":{"values":[{"x":4.65,"y":5,"x2":4.65,"y2":8},{"x":4.65,"y":5,"x2":6.4,"y2":5}]},"mark":{"type":"rule","color":"#111","strokeWidth":1.3},"encoding":{"x":{"field":"x","type":"quantitative","scale":{"domain":[0,10],"nice":false},"axis":null},"y":{"field":"y","type":"quantitative","scale":{"domain":[0,10],"nice":false},"axis":null},"x2":{"field":"x2"},"y2":{"field":"y2"}}},
{"data":{"values":[{"x":4.65,"y":8,"d":"up"},{"x":6.45,"y":5,"d":"right"}]},"mark":{"type":"point","filled":true,"opacity":1,"color":"#111","size":170},"encoding":{"x":{"field":"x","type":"quantitative"},"y":{"field":"y","type":"quantitative"},"shape":{"field":"d","type":"nominal","legend":null,"scale":{"domain":["up","right"],"range":["triangle-up","triangle-right"]}}}},
{"data":{"values":[{"x":3.99,"y":6.64,"t":"X"},{"x":5.58,"y":3.73,"t":"Y"}]},"mark":{"type":"text","font":"Liberation Serif","fontWeight":"bold","fontSize":20,"color":"#111"},"encoding":{"x":{"field":"x","type":"quantitative"},"y":{"field":"y","type":"quantitative"},"text":{"field":"t"}}}
]}
],"spacing":30},
{"resolve":{"scale":{"color":"independent"}},"vconcat":[
{"resolve":{"scale":{"color":"independent"}},"hconcat":[
{"width":243,"height":246,"title":{"text":"MAE=0.164","offset":-5},"data":{"name":"ann"},"mark":{"type":"area","orient":"horizontal"},"encoding":{"y":{"field":"y","type":"quantitative","scale":{"domain":[1,10],"nice":false},"axis":{"values":[2,4,6,8,10],"title":null}},"x":{"field":"x","type":"quantitative","scale":{"domain":[1,10],"nice":false},"axis":{"values":[2,4,6,8,10],"title":"ANN","titleX":129,"titleY":56}},"x2":{"field":"x2"},"detail":{"field":"s"},"color":{"field":"b","type":"ordinal","legend":null,"scale":{"domain":["below","1.84","1.92","2.00","2.08","2.16","2.24","2.32","2.40","2.48","above"],"range":["#0d0b0a","#23130f","#6c1810","#b52514","#da2815","#e65200","#f5a500","#f5e000","#f8e54f","#fdf4c8","#ffffff"]}}}},
{"width":11,"height":246,"view":{"stroke":null},"resolve":{"scale":{"color":"shared"}},"layer":[
{"data":{"values":[{"b":"1.84","lo":1.84,"hi":1.92},{"b":"1.92","lo":1.92,"hi":2.0},{"b":"2.00","lo":2.0,"hi":2.08},{"b":"2.08","lo":2.08,"hi":2.16},{"b":"2.16","lo":2.16,"hi":2.24},{"b":"2.24","lo":2.24,"hi":2.32},{"b":"2.32","lo":2.32,"hi":2.4},{"b":"2.40","lo":2.4,"hi":2.48},{"b":"2.48","lo":2.48,"hi":2.56}]},"mark":"rect","encoding":{"y":{"field":"lo","type":"quantitative","scale":{"domain":[1.807,2.593],"nice":false},"axis":{"values":[1.84,1.92,2.0,2.08,2.16,2.24,2.32,2.4,2.48,2.56],"tickCount":20,"format":".2f","orient":"right","title":null,"tickSize":6,"labelFontSize":14,"labelPadding":4,"labelOverlap":false}},"y2":{"field":"hi"},"color":{"field":"b","type":"ordinal","legend":null,"scale":{"domain":["below","1.84","1.92","2.00","2.08","2.16","2.24","2.32","2.40","2.48","above"],"range":["#0d0b0a","#23130f","#6c1810","#b52514","#da2815","#e65200","#f5a500","#f5e000","#f8e54f","#fdf4c8","#ffffff"]}}}},
{"data":{"values":[{"lo":1.84,"hi":2.56}]},"mark":{"type":"rect","fill":null,"stroke":"#333","strokeWidth":0.8},"encoding":{"y":{"field":"lo","type":"quantitative"},"y2":{"field":"hi"}}},
{"data":{"values":[{"b":"above","y":2.56,"x":0,"x2":1},{"b":"above","y":2.593,"x":0.5,"x2":0.5},{"b":"below","y":1.84,"x":0,"x2":1},{"b":"below","y":1.807,"x":0.5,"x2":0.5}]},"mark":{"type":"area","orient":"horizontal","stroke":"#222","strokeWidth":0.8},"encoding":{"y":{"field":"y","type":"quantitative"},"x":{"field":"x","type":"quantitative","scale":{"domain":[0,1],"nice":false},"axis":null},"x2":{"field":"x2"},"color":{"field":"b","type":"ordinal","legend":null}}}
]}],"spacing":15,"bounds":"flush"},
{"resolve":{"scale":{"color":"independent"}},"hconcat":[
{"width":243,"height":246,"title":{"text":"MAE=0.067","offset":-5},"data":{"name":"per"},"mark":{"type":"area","orient":"horizontal"},"encoding":{"y":{"field":"y","type":"quantitative","scale":{"domain":[1,10],"nice":false},"axis":{"values":[2,4,6,8,10],"title":null}},"x":{"field":"x","type":"quantitative","scale":{"domain":[1,10],"nice":false},"axis":{"values":[2,4,6,8,10],"title":"Persistence","titleX":131,"titleY":55}},"x2":{"field":"x2"},"detail":{"field":"s"},"color":{"field":"b","type":"ordinal","legend":null,"scale":{"domain":["below","1.50","1.65","1.80","1.95","2.10","2.25","2.40","above"],"range":["#0d0b0a","#26150f","#85190f","#da2815","#e65200","#f5b400","#f5e010","#fdf4c0","#ffffff"]}}}},
{"width":11,"height":246,"view":{"stroke":null},"resolve":{"scale":{"color":"shared"}},"layer":[
{"data":{"values":[{"b":"1.50","lo":1.5,"hi":1.65},{"b":"1.65","lo":1.65,"hi":1.8},{"b":"1.80","lo":1.8,"hi":1.95},{"b":"1.95","lo":1.95,"hi":2.1},{"b":"2.10","lo":2.1,"hi":2.25},{"b":"2.25","lo":2.25,"hi":2.4},{"b":"2.40","lo":2.4,"hi":2.55}]},"mark":"rect","encoding":{"y":{"field":"lo","type":"quantitative","scale":{"domain":[1.448,2.602],"nice":false},"axis":{"values":[1.5,1.65,1.8,1.95,2.1,2.25,2.4,2.55],"tickCount":20,"format":".2f","orient":"right","title":null,"tickSize":6,"labelFontSize":14,"labelPadding":4,"labelOverlap":false}},"y2":{"field":"hi"},"color":{"field":"b","type":"ordinal","legend":null,"scale":{"domain":["below","1.50","1.65","1.80","1.95","2.10","2.25","2.40","above"],"range":["#0d0b0a","#26150f","#85190f","#da2815","#e65200","#f5b400","#f5e010","#fdf4c0","#ffffff"]}}}},
{"data":{"values":[{"lo":1.5,"hi":2.55}]},"mark":{"type":"rect","fill":null,"stroke":"#333","strokeWidth":0.8},"encoding":{"y":{"field":"lo","type":"quantitative"},"y2":{"field":"hi"}}},
{"data":{"values":[{"b":"above","y":2.55,"x":0,"x2":1},{"b":"above","y":2.602,"x":0.5,"x2":0.5},{"b":"below","y":1.5,"x":0,"x2":1},{"b":"below","y":1.448,"x":0.5,"x2":0.5}]},"mark":{"type":"area","orient":"horizontal","stroke":"#222","strokeWidth":0.8},"encoding":{"y":{"field":"y","type":"quantitative"},"x":{"field":"x","type":"quantitative","scale":{"domain":[0,1],"nice":false},"axis":null},"x2":{"field":"x2"},"color":{"field":"b","type":"ordinal","legend":null}}}
]}],"spacing":15,"bounds":"flush"}
],"spacing":32}
],"spacing":39}
